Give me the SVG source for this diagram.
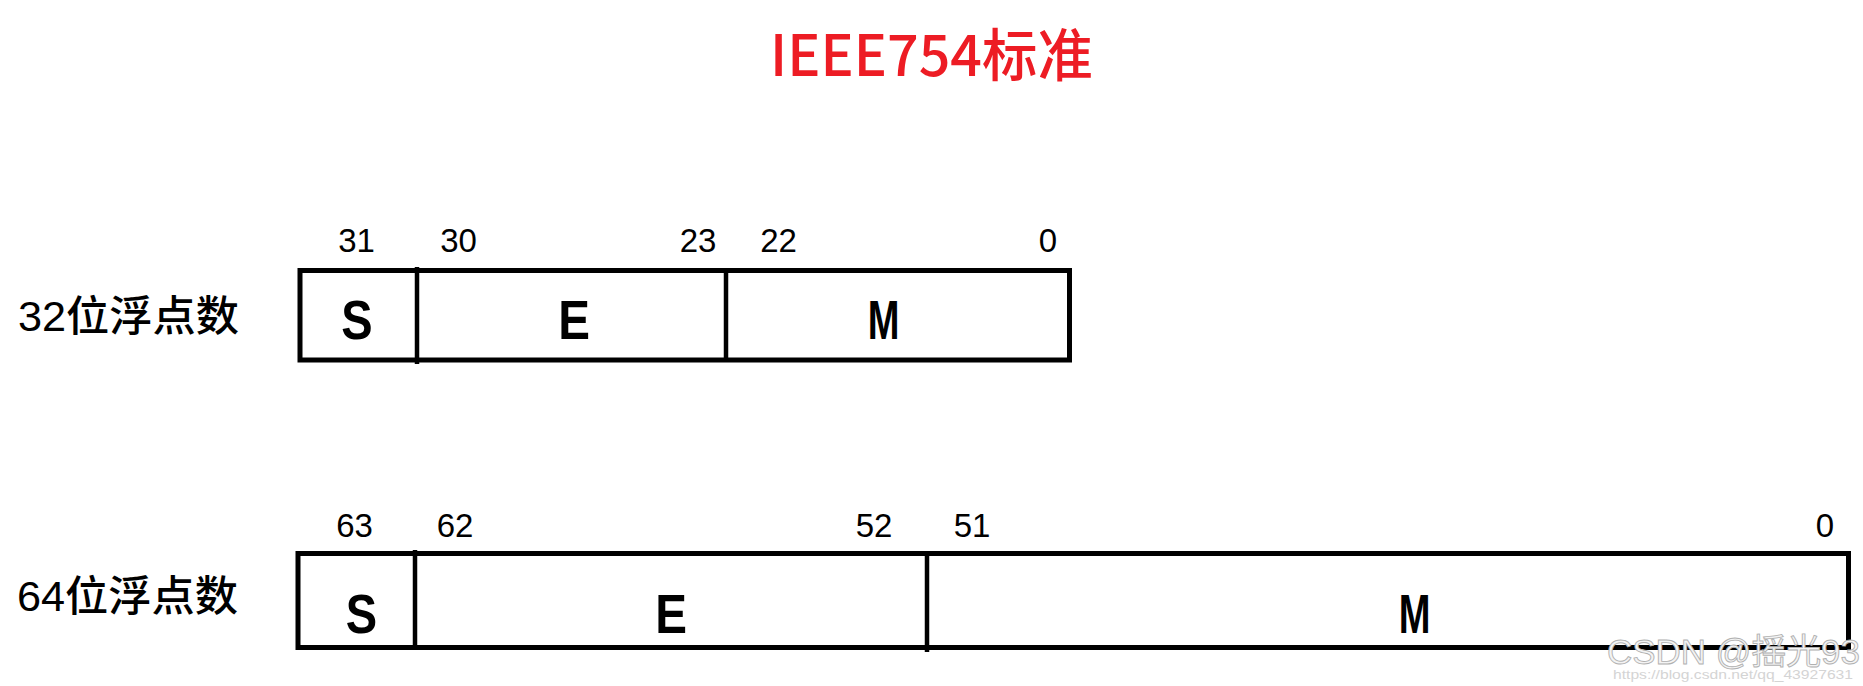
<svg xmlns="http://www.w3.org/2000/svg" width="1863" height="686" viewBox="0 0 1863 686">
  <style>
    .box { fill: none; stroke: #000; stroke-width: 5; }
    .div { stroke: #000; stroke-width: 4.5; }
    .num { font-family: "Liberation Sans", Arial, sans-serif; font-size: 33px; fill: #000; text-anchor: middle; }
    .fld { font-family: "Liberation Sans", Arial, sans-serif; font-size: 56px; font-weight: bold; fill: #000; text-anchor: middle; }
    .lbl { font-family: "Liberation Sans", "Noto Sans CJK SC", sans-serif; font-size: 42px; font-weight: 500; fill: #000; }
    .title { font-family: "Noto Sans CJK SC", "Liberation Sans", sans-serif; font-size: 57px; font-weight: 500; fill: #ED1C24; }
    .wm { font-family: "Liberation Sans", "Noto Sans CJK SC", sans-serif; font-size: 35px; fill: #f4f4f4; stroke: #b0b0b0; stroke-width: 0.9; }
    .url { font-family: "Liberation Sans", sans-serif; font-size: 13px; fill: #d4d4d4; }
  </style>
  <rect width="1863" height="686" fill="#fff"/>

  <g id="title">
    <text class="title" x="770" y="76" textLength="323" lengthAdjust="spacingAndGlyphs">IEEE754标准</text>
  </g>

  <g id="float32">
    <text class="lbl" x="18" y="331" textLength="221" lengthAdjust="spacingAndGlyphs">32位浮点数</text>
    <rect class="box" x="300" y="270.5" width="769.5" height="89.5"/>
    <text class="num" x="356.5" y="252">31</text>
    <text class="num" x="458.5" y="252">30</text>
    <text class="num" x="698" y="252">23</text>
    <text class="num" x="778.5" y="252">22</text>
    <text class="num" x="1048" y="252">0</text>
    <text class="fld" transform="translate(357 339) scale(0.84 1)">S</text>
    <text class="fld" transform="translate(574 339) scale(0.85 1)">E</text>
    <text class="fld" transform="translate(883.5 339) scale(0.68 1)">M</text>
  </g>

  <g id="float64">
    <text class="lbl" x="17" y="611" textLength="221" lengthAdjust="spacingAndGlyphs">64位浮点数</text>
    <rect class="box" x="298" y="553.5" width="1550.5" height="94"/>
    <text class="num" x="354.5" y="537">63</text>
    <text class="num" x="455" y="537">62</text>
    <text class="num" x="874" y="537">52</text>
    <text class="num" x="972" y="537">51</text>
    <text class="num" x="1825" y="537">0</text>
    <text class="fld" transform="translate(361.5 633) scale(0.84 1)">S</text>
    <text class="fld" transform="translate(671 633) scale(0.85 1)">E</text>
    <text class="fld" transform="translate(1414.5 633) scale(0.68 1)">M</text>
  </g>

  <g id="connectors">
    <line class="div" x1="417" y1="267" x2="417" y2="364"/>
    <line class="div" x1="726" y1="270" x2="726" y2="361"/>
    <line class="div" x1="415" y1="550" x2="415" y2="649"/>
    <line class="div" x1="927" y1="553" x2="927" y2="652"/>
  </g>

  <g id="watermark">
    <text class="wm" x="1607" y="664" textLength="253" lengthAdjust="spacingAndGlyphs">CSDN @摇光93</text>
    <text class="url" x="1613" y="679" textLength="240" lengthAdjust="spacingAndGlyphs">https://blog.csdn.net/qq_43927631</text>
  </g>
</svg>
